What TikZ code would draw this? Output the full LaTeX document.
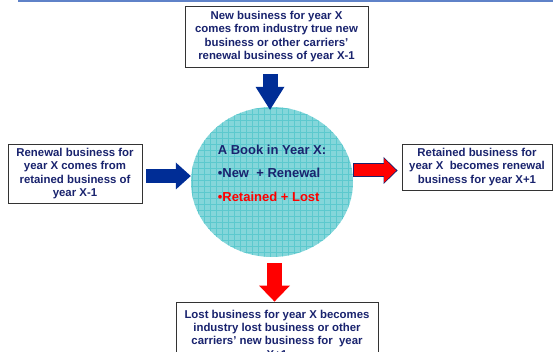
\documentclass[tikz,border=0pt]{standalone}
\usepackage{fontspec}
\setmainfont{Liberation Sans}
\usetikzlibrary{positioning, arrows.meta, shapes.geometric, calc}

\definecolor{inkblue}{RGB}{25,35,110}
\definecolor{arrowblue}{RGB}{0,45,150}
\definecolor{ruleblue}{RGB}{95,130,200}
\definecolor{poolcyan}{RGB}{132,214,218}
\definecolor{gridcyan}{RGB}{92,201,206}

\begin{document}
\begin{tikzpicture}[
            x=1pt, y=-1pt,
            textbox/.style={draw=black!80, line width=0.9pt, fill=white, text=inkblue, align=center, inner sep=2pt,
                font=\fontsize{11.4}{13.3}\selectfont\bfseries},
            bookdisk/.style={ellipse, fill=poolcyan, minimum width=162pt, minimum height=150pt, inner sep=0pt},
            blockarrow/.style n args={3}{line width=#1, -{Triangle[length=#2, width=#3, line width=0pt]}},
        ]
            \useasboundingbox (0,0) rectangle (553,352);
            \clip (0,0) rectangle (553,352);

            % Rule along the top
            \draw[ruleblue, line width=1.6pt] (18,1) -- (553,1);

            % The book in the middle, with its grid texture
            \node[bookdisk] (book) at (272,182) {};
            \begin{scope}
                \clip (book.center) ellipse [x radius=81pt, y radius=75pt];
                \draw[gridcyan, line width=0.5pt] (186,100) grid[step=6pt] (360,264);
            \end{scope}
            \node[text=inkblue, align=left, font=\fontsize{13}{23.5}\selectfont\bfseries] (booktext) at (272,173)
                {A Book in Year X:\\•New\ \ + Renewal\\\textcolor{red}{•Retained + Lost}};

            % Draw the four text boxes round it
            \node[textbox, minimum width=183pt, minimum height=61pt] (newbiz) at (276.5,36.5)
                {New business for year X\\comes from industry true new\\business or other carriers’\\renewal business of year X-1};
            \node[textbox, minimum width=134pt, minimum height=59pt] (renewal) at (75,173.5)
                {Renewal business for\\year X comes from\\retained business of\\year X-1};
            \node[textbox, minimum width=150pt, minimum height=46pt] (retained) at (477,167)
                {Retained business for\\year X\ \ becomes renewal\\business for year X+1};
            \node[textbox, minimum width=202pt, minimum height=64pt, text depth=0pt] (lost) at (277,334)
                {Lost business for year X becomes\\industry lost business or other\\carriers’ new business for\ \ year\\X+1};

            % Inflows (blue) into the book
            \draw[blockarrow={15pt}{23pt}{29pt}, arrowblue, shorten <=6.5pt, shorten >=-3pt]
                ([xshift=-6.5pt]newbiz.south) -- ([xshift=-6.5pt]newbiz.south |- book.north);
            \draw[blockarrow={14pt}{15pt}{27pt}, arrowblue, shorten <=4pt]
                ([yshift=-2.5pt]renewal.east) -- ([yshift=-2.5pt]renewal.east -| book.west);

            % Outflows (red) from the book
            \draw[blockarrow={14pt}{14pt}{27pt}, inkblue, shorten >=4pt]
                ([yshift=-3.5pt]retained.west -| book.east) -- ([yshift=-3.5pt]retained.west);
            \draw[blockarrow={12pt}{12pt}{24pt}, red, shorten <=1pt, shorten >=5.4pt]
                ([yshift=-3.5pt]retained.west -| book.east) -- ([yshift=-3.5pt]retained.west);
            \draw[blockarrow={15pt}{16pt}{31pt}, red, shorten <=6pt]
                ([xshift=2.5pt]book.south) -- ([xshift=2.5pt]book.south |- lost.north);
        \end{tikzpicture}
\end{document}
